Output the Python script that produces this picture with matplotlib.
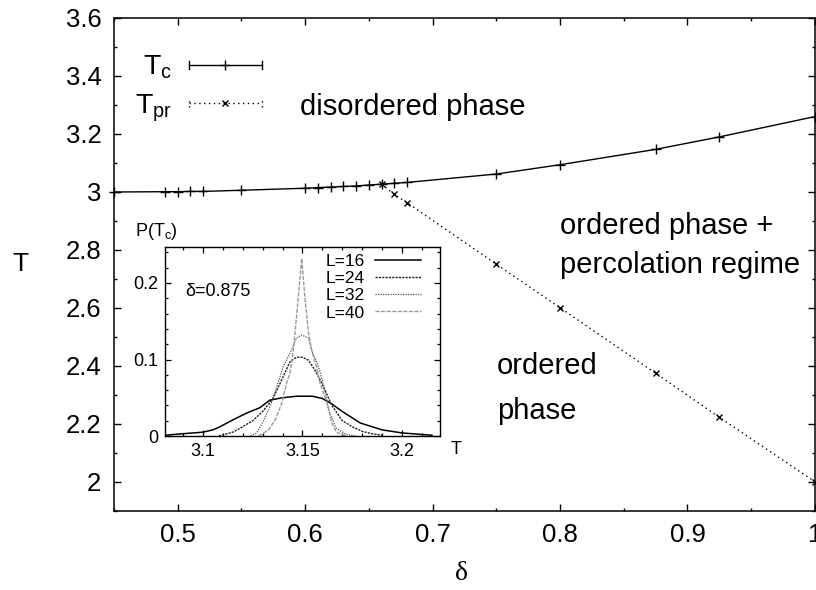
import numpy as np
import matplotlib
matplotlib.use("Agg")
import matplotlib.pyplot as plt
from matplotlib.legend_handler import HandlerBase
from matplotlib.lines import Line2D
from matplotlib.ticker import MultipleLocator, FuncFormatter

plt.rcParams["font.family"] = ["Liberation Sans", "DejaVu Sans"]
plt.rcParams["mathtext.fontset"] = "custom"
plt.rcParams["mathtext.rm"] = "Liberation Sans"
plt.rcParams["mathtext.it"] = "Liberation Sans"

# phase diagram: critical temperature and percolation temperature vs delta
tc_delta = [0.45, 0.49, 0.50, 0.51, 0.52, 0.55, 0.60, 0.61, 0.62, 0.63, 0.64,
            0.65, 0.66, 0.67, 0.68, 0.75, 0.80, 0.875, 0.925, 1.0]
tc_values = [3.000, 3.001, 3.001, 3.002, 3.002, 3.006, 3.013, 3.015, 3.017, 3.019,
             3.021, 3.024, 3.027, 3.030, 3.033, 3.062, 3.094, 3.147, 3.190, 3.260]

tpr_delta = [0.66, 0.67, 0.68, 0.75, 0.80, 0.875, 0.925, 1.0]
tpr_values = [3.027, 2.992, 2.963, 2.751, 2.601, 2.375, 2.223, 2.001]

# inset: distribution P(Tc) at delta = 0.875
t_16 = [3.081, 3.090, 3.100, 3.105, 3.1085, 3.115, 3.122, 3.1286, 3.1337, 3.140,
        3.147, 3.155, 3.160, 3.1647, 3.170, 3.179, 3.190, 3.200, 3.215]
p_16 = [0.001, 0.003, 0.005, 0.008, 0.012, 0.021, 0.030, 0.037, 0.047, 0.050,
        0.052, 0.052, 0.049, 0.042, 0.032, 0.017, 0.008, 0.004, 0.001]

t_24 = [3.108, 3.115, 3.1186, 3.125, 3.130, 3.135, 3.1404, 3.1437, 3.147, 3.150,
        3.153, 3.1563, 3.1597, 3.1647, 3.170, 3.175, 3.180, 3.185, 3.190]
p_24 = [0.000, 0.005, 0.010, 0.020, 0.032, 0.048, 0.078, 0.097, 0.103, 0.103,
        0.099, 0.086, 0.069, 0.040, 0.020, 0.012, 0.006, 0.003, 0.001]

t_32 = [3.124, 3.127, 3.130, 3.134, 3.1404, 3.1437, 3.147, 3.1496, 3.153, 3.1546,
        3.158, 3.1613, 3.163, 3.167, 3.172, 3.177]
p_32 = [0.000, 0.004, 0.018, 0.040, 0.091, 0.108, 0.128, 0.132, 0.128, 0.112,
        0.091, 0.060, 0.034, 0.010, 0.002, 0.000]

t_40 = [3.128, 3.133, 3.1365, 3.1396, 3.142, 3.1437, 3.1454, 3.147, 3.1496, 3.1513,
        3.153, 3.1546, 3.157, 3.1588, 3.163, 3.1647, 3.167, 3.172]
p_40 = [0.000, 0.008, 0.022, 0.043, 0.069, 0.082, 0.112, 0.156, 0.232, 0.178,
        0.135, 0.112, 0.091, 0.069, 0.038, 0.017, 0.005, 0.000]

size_labels = ["L=16", "L=24", "L=32", "L=40"]


class ErrorLineHandler(HandlerBase):
    """gnuplot-like errorlines key: line with end caps and a point in the middle."""

    def create_artists(self, legend, orig_handle, xdescent, ydescent,
                       width, height, fontsize, trans):
        y = height / 2 - ydescent
        x0, x1 = -xdescent, width - xdescent
        cap = height * 0.18
        line = Line2D([x0, x1], [y, y])
        line.update_from(orig_handle)
        line.set_marker("")
        caps = Line2D([x0, x0, np.nan, x1, x1], [y - cap, y + cap, np.nan, y - cap, y + cap])
        caps.update_from(orig_handle)
        caps.set_marker("")
        mark = Line2D([(x0 + x1) / 2], [y])
        mark.update_from(orig_handle)
        mark.set_linestyle("none")
        for artist in (line, caps, mark):
            artist.set_transform(trans)
        return [line, caps, mark]


def plain(value, _pos):
    return f"{value:g}"


fig = plt.figure(figsize=(8.16, 5.9), dpi=100)
ax = fig.add_axes([0.1397, 0.1339, 0.859, 0.8356])

(tc_line,) = ax.plot(tc_delta, tc_values, color="black", linewidth=1.0,
                     marker="+", markersize=7, markeredgewidth=1.0, clip_on=False)
(tpr_line,) = ax.plot(tpr_delta, tpr_values, color="black", linewidth=1.0,
                      linestyle=(0, (1, 2.5)), marker="x", markersize=5,
                      markeredgewidth=1.0, clip_on=False)

ax.set_xlim(0.45, 1.0)
ax.set_ylim(1.9, 3.6)
ax.xaxis.set_major_locator(MultipleLocator(0.1))
ax.xaxis.set_minor_locator(MultipleLocator(0.05))
ax.yaxis.set_major_locator(MultipleLocator(0.2))
ax.yaxis.set_minor_locator(MultipleLocator(0.1))
ax.xaxis.set_major_formatter(FuncFormatter(plain))
ax.yaxis.set_major_formatter(FuncFormatter(plain))
ax.tick_params(which="both", direction="in", top=True, right=True, width=1.0)
ax.tick_params(which="major", length=5, labelsize=18.5, pad=9)
ax.tick_params(which="minor", length=2.5)
for spine in ax.spines.values():
    spine.set_linewidth(1.1)

ax.set_ylabel("T", fontsize=19, rotation=0, ha="center", va="center")
ax.yaxis.set_label_coords(-0.133, 0.5)
ax.set_xlabel("δ", fontsize=20, family=["Liberation Serif", "DejaVu Serif"], va="center")
ax.xaxis.set_label_coords(0.496, -0.126)

ax.legend([tc_line, tpr_line], [r"T$_\mathrm{c}$", r"T$_\mathrm{pr}$"],
          handler_map={Line2D: ErrorLineHandler()}, loc="upper left",
          bbox_to_anchor=(0.03, 0.927), frameon=False, fontsize=20.5,
          markerfirst=False, handlelength=2.55, handletextpad=0.6,
          labelspacing=0.38, borderpad=0, borderaxespad=0)

ax.text(0.596, 3.293, "disordered phase", fontsize=21, va="center")
ax.text(0.80, 2.884, "ordered phase +", fontsize=21, va="center")
ax.text(0.80, 2.748, "percolation regime", fontsize=21, va="center")
ax.text(0.7504, 2.40, "ordered", fontsize=21, va="center")
ax.text(0.7504, 2.246, "phase", fontsize=21, va="center")

# inset
ins = fig.add_axes([0.2022, 0.261, 0.337, 0.3203])
ins.plot(t_16, p_16, color="black", linewidth=1.1, label=size_labels[0])
ins.plot(t_24, p_24, color="#222222", linewidth=1.0, linestyle=(0, (1.6, 0.8)), label=size_labels[1])
ins.plot(t_32, p_32, color="#555555", linewidth=0.9, linestyle=(0, (1, 1)), label=size_labels[2])
ins.plot(t_40, p_40, color="#999999", linewidth=1.0, linestyle=(0, (3, 1)), label=size_labels[3])

ins.set_xlim(3.081, 3.219)
ins.set_ylim(0, 0.247)
ins.set_xticks([3.1, 3.15, 3.2])
ins.set_yticks([0, 0.1, 0.2])
ins.xaxis.set_minor_locator(MultipleLocator(0.01))
ins.yaxis.set_minor_locator(MultipleLocator(0.02))
ins.xaxis.set_major_formatter(FuncFormatter(plain))
ins.yaxis.set_major_formatter(FuncFormatter(plain))
ins.tick_params(which="both", direction="in", top=True, right=True, width=0.9)
ins.tick_params(which="major", length=4, labelsize=13, pad=5)
ins.tick_params(which="minor", length=2.5)
for spine in ins.spines.values():
    spine.set_linewidth(1.0)

ins.legend(loc="upper right", bbox_to_anchor=(0.93, 0.965), frameon=False,
           fontsize=12.5, markerfirst=False, handlelength=2.65, handletextpad=0.55,
           labelspacing=0.12, borderpad=0, borderaxespad=0)
ins.text(0.073, 0.767, "δ=0.875", transform=ins.transAxes, fontsize=13, va="center")
ins.text(-0.03, 1.08, r"P(T$_\mathrm{c}$)", transform=ins.transAxes, fontsize=13,
         ha="center", va="center")
ins.text(1.058, -0.074, "T", transform=ins.transAxes, fontsize=13, ha="center", va="center")

fig.savefig("out.png", dpi=100)
plt.close(fig)
